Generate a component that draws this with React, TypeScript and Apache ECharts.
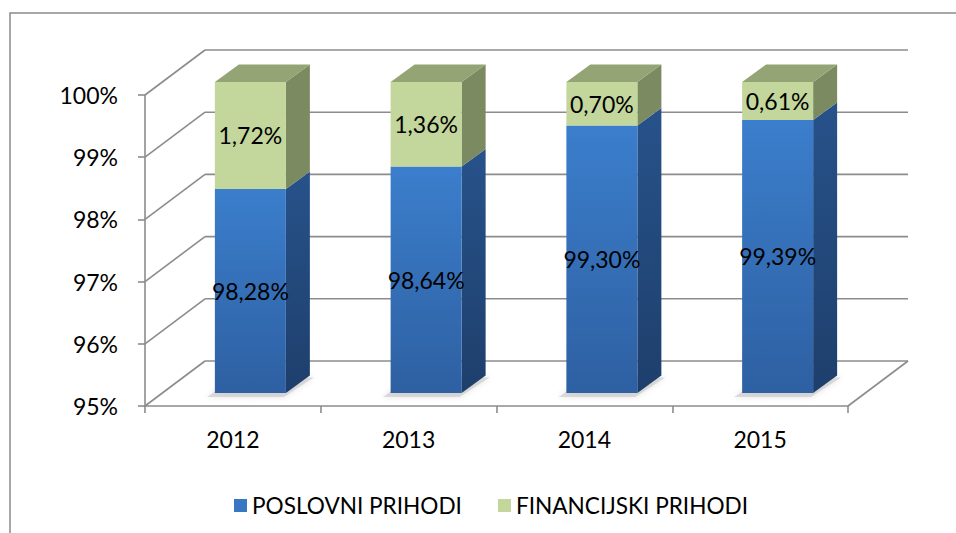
import React, { useEffect, useRef } from "react";
import * as echarts from "echarts";

const categories = ["2012", "2013", "2014", "2015"];
const poslovni = [98.28, 98.64, 99.3, 99.39];
const financijski = [1.72, 1.36, 0.7, 0.61];
const yMin = 95;
const yMax = 100;
const yTicks = [95, 96, 97, 98, 99, 100];
const seriesNames = ["POSLOVNI PRIHODI", "FINANCIJSKI PRIHODI"];

const WALL = { x: 60, y: -45 };
const FRONT = { x: 17.5, y: -13 };
const BACK = { x: 41.5, y: -30.5 };
const FONT = "Lato";

const fmt = (v: number) => v.toFixed(2).replace(".", ",") + "%";

const blueFront = () =>
  new echarts.graphic.LinearGradient(0, 0, 0, 1, [
    { offset: 0, color: "#3B7ECC" },
    { offset: 1, color: "#2E60A2" },
  ]);
const blueSide = () =>
  new echarts.graphic.LinearGradient(0, 0, 0, 1, [
    { offset: 0, color: "#27528A" },
    { offset: 1, color: "#1E3F6C" },
  ]);

function makeRender(kind: "blue" | "green") {
  return (params: any, api: any) => {
    const i = api.value(0);
    const lo = api.value(1);
    const hi = api.value(2);
    const label = api.value(3);
    const b = api.coord([i, lo]);
    const t = api.coord([i, hi]);
    const band = api.size([1, 0])[0];
    const w = band * 0.404;
    const x0 = b[0] - w / 2;
    const x1 = b[0] + w / 2;
    const yb = b[1];
    const yt = t[1];
    const children: any[] = [];
    if (kind === "blue") {
      children.push({
        type: "polygon",
        shape: {
          points: [
            [x0 + FRONT.x - 8, yb + FRONT.y + 4],
            [x1 + FRONT.x - 2, yb + FRONT.y + 4],
            [x1 + BACK.x + 4, yb + BACK.y + 2],
            [x0 + BACK.x, yb + BACK.y],
          ],
        },
        style: {
          fill: "rgba(160,160,160,0.35)",
          shadowBlur: 6,
          shadowColor: "rgba(0,0,0,0.3)",
        },
      });
    }
    children.push({
      type: "polygon",
      shape: {
        points: [
          [x1 + FRONT.x, yt + FRONT.y],
          [x1 + BACK.x, yt + BACK.y],
          [x1 + BACK.x, yb + BACK.y],
          [x1 + FRONT.x, yb + FRONT.y],
        ],
      },
      style: { fill: kind === "blue" ? blueSide() : "#7B8A61" },
    });
    children.push({
      type: "rect",
      shape: { x: x0 + FRONT.x, y: yt + FRONT.y, width: w, height: yb - yt },
      style: { fill: kind === "blue" ? blueFront() : "#C3D69B" },
    });
    if (kind === "green") {
      children.push({
        type: "polygon",
        shape: {
          points: [
            [x0 + FRONT.x, yt + FRONT.y],
            [x0 + BACK.x, yt + BACK.y],
            [x1 + BACK.x, yt + BACK.y],
            [x1 + FRONT.x, yt + FRONT.y],
          ],
        },
        style: { fill: "#94A474" },
      });
    }
    children.push({
      type: "text",
      x: b[0] + FRONT.x,
      y: (yt + yb) / 2 + FRONT.y,
      style: {
        text: fmt(label),
        fontSize: 23,
        fontFamily: FONT,
        fill: "#000",
        align: "center",
        verticalAlign: "middle",
      },
    });
    return { type: "group", children };
  };
}

function renderWalls(params: any, api: any) {
  const v = api.value(0);
  const cs = params.coordSys;
  const p = api.coord([0, v]);
  const y = p[1];
  const gx = cs.x;
  const gw = cs.width;
  const stroke = { stroke: "#8C8C8C", lineWidth: 1.6 };
  const children: any[] = [
    {
      type: "line",
      shape: { x1: gx, y1: y, x2: gx + WALL.x, y2: y + WALL.y },
      style: stroke,
    },
    {
      type: "line",
      shape: { x1: gx + WALL.x, y1: y + WALL.y, x2: gx + gw + WALL.x, y2: y + WALL.y },
      style: stroke,
    },
  ];
  if (v === yMin) {
    children.push({
      type: "line",
      shape: { x1: gx + gw, y1: y, x2: gx + gw + WALL.x, y2: y + WALL.y },
      style: stroke,
    });
  }
  return { type: "group", children };
}

export default function App() {
  const ref = useRef<HTMLDivElement>(null);
  useEffect(() => {
    if (!ref.current) return;
    const chart = echarts.init(ref.current, undefined, { renderer: "svg" });
    const blueData = categories.map((_, i) => [i, yMin, poslovni[i], poslovni[i]]);
    const greenData = categories.map((_, i) => [
      i,
      poslovni[i],
      poslovni[i] + financijski[i],
      financijski[i],
    ]);
    chart.setOption({
      animation: false,
      backgroundColor: "#fff",
      graphic: [
        {
          type: "rect",
          silent: true,
          z: -10,
          shape: { x: 10, y: 13, width: 1000, height: 600 },
          style: { fill: "none", stroke: "#8A8A8A", lineWidth: 1.5 },
        },
      ],
      grid: { left: 145, top: 95, width: 703, height: 311, containLabel: false },
      legend: {
        data: seriesNames,
        left: 229,
        top: 489,
        icon: "rect",
        itemWidth: 13,
        itemHeight: 13,
        itemGap: 36,
        textStyle: { fontFamily: FONT, fontSize: 22.6, color: "#000" },
      },
      xAxis: {
        type: "category",
        data: categories,
        boundaryGap: true,
        axisLine: { show: true, lineStyle: { color: "#8C8C8C", width: 1.6 } },
        axisTick: { show: true, length: 7, alignWithLabel: false, lineStyle: { color: "#8C8C8C", width: 1.6 } },
        axisLabel: { fontFamily: FONT, fontSize: 23, color: "#000", margin: 21 },
        splitLine: { show: false },
      },
      yAxis: {
        type: "value",
        min: yMin,
        max: yMax,
        interval: 1,
        axisLine: { show: true, lineStyle: { color: "#8C8C8C", width: 1.6 } },
        axisTick: { show: true, length: 7, lineStyle: { color: "#8C8C8C", width: 1.6 } },
        axisLabel: {
          fontFamily: FONT,
          fontSize: 23,
          color: "#000",
          margin: 27,
          formatter: (v: number) => v + "%",
        },
        splitLine: { show: false },
      },
      series: [
        {
          type: "custom",
          name: "walls",
          silent: true,
          z: 1,
          renderItem: renderWalls,
          data: yTicks.map((v) => [v]),
          encode: { y: 0 },
        },
        {
          type: "custom",
          name: seriesNames[0],
          z: 2,
          itemStyle: { color: "#3A77C2" },
          renderItem: makeRender("blue"),
          data: blueData,
          encode: { x: 0, y: [1, 2] },
        },
        {
          type: "custom",
          name: seriesNames[1],
          z: 3,
          itemStyle: { color: "#C3D69B" },
          renderItem: makeRender("green"),
          data: greenData,
          encode: { x: 0, y: [1, 2] },
        },
      ],
    });
    return () => chart.dispose();
  }, []);
  return (
    <div
      ref={ref}
      style={{ position: "absolute", left: 0, top: 0, width: 956, height: 533 }}
    />
  );
}
